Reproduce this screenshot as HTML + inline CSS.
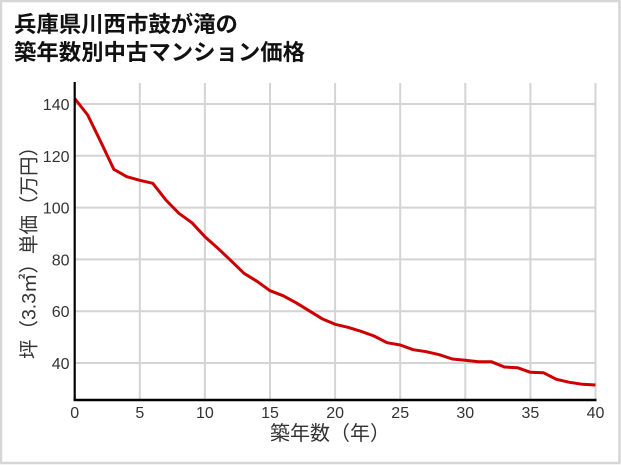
<!DOCTYPE html>
<html><head><meta charset="utf-8"><style>
html,body{margin:0;padding:0;background:#fff;}
svg{display:block;}
</style></head><body>
<svg width="621" height="465" viewBox="0 0 621 465" xmlns="http://www.w3.org/2000/svg">
<rect x="0" y="0" width="621" height="465" fill="#fff"/>
<rect x="1" y="1" width="618.5" height="462" fill="none" stroke="#d6d6d6" stroke-width="2.5"/>
<g font-family="'Liberation Sans','Noto Sans CJK JP',sans-serif" font-weight="bold" font-size="22.4" fill="#111">
<text x="14" y="32">兵庫県川西市鼓が滝の</text>
<text x="14" y="60">築年数別中古マンション価格</text>
</g>
<g stroke="#d4d4d4" stroke-width="2">
<line x1="139.8" y1="83" x2="139.8" y2="400"/>
<line x1="204.9" y1="83" x2="204.9" y2="400"/>
<line x1="270" y1="83" x2="270" y2="400"/>
<line x1="335.1" y1="83" x2="335.1" y2="400"/>
<line x1="400.2" y1="83" x2="400.2" y2="400"/>
<line x1="465.3" y1="83" x2="465.3" y2="400"/>
<line x1="530.4" y1="83" x2="530.4" y2="400"/>
<line x1="595.5" y1="83" x2="595.5" y2="400"/>
<line x1="75" y1="104" x2="596" y2="104"/>
<line x1="75" y1="155.8" x2="596" y2="155.8"/>
<line x1="75" y1="207.6" x2="596" y2="207.6"/>
<line x1="75" y1="259.4" x2="596" y2="259.4"/>
<line x1="75" y1="311.2" x2="596" y2="311.2"/>
<line x1="75" y1="363" x2="596" y2="363"/>
</g>
<polyline fill="none" stroke="#cc0000" stroke-width="3" stroke-linejoin="round" points="74.7,98.5 87.7,115 100.7,141.7 113.8,169.3 126.8,176.7 139.8,180.3 152.8,183.3 165.9,200 178.9,213.3 191.9,222.7 204.9,236.7 217.9,248.3 231,260.7 244,273.3 257,281.3 270,290.7 283,295.7 296,302.7 309,310.7 322,318.7 335.1,324.3 348,327.3 361,331.3 374,336 387,342.7 400.2,345 413.2,349.7 426.2,351.7 439.3,354.7 452.3,359 465.3,360.3 478.3,361.7 491.3,361.7 504.4,367 517.4,367.7 530.4,372.3 543.4,372.7 556.4,379.3 569.5,382.3 582.5,384.3 595.5,385"/>
<line x1="74.7" y1="82" x2="74.7" y2="401" stroke="#000" stroke-width="2.2"/>
<line x1="73.6" y1="400" x2="596.5" y2="400" stroke="#000" stroke-width="2.5"/>
<g font-family="'Liberation Sans',sans-serif" font-size="16" fill="#333" text-anchor="end">
<text x="69.5" y="110">140</text>
<text x="69.5" y="161.8">120</text>
<text x="69.5" y="213.6">100</text>
<text x="69.5" y="265.4">80</text>
<text x="69.5" y="317.2">60</text>
<text x="69.5" y="369">40</text>
</g>
<g font-family="'Liberation Sans',sans-serif" font-size="16" fill="#333" text-anchor="middle">
<text x="74.7" y="418">0</text>
<text x="139.8" y="418">5</text>
<text x="204.9" y="418">10</text>
<text x="270" y="418">15</text>
<text x="335.1" y="418">20</text>
<text x="400.2" y="418">25</text>
<text x="465.3" y="418">30</text>
<text x="530.4" y="418">35</text>
<text x="595.5" y="418">40</text>
</g>
<text x="270" y="440" font-family="'Liberation Sans','Noto Sans CJK JP',sans-serif" font-size="20" fill="#333">築年数（年）</text>
<text transform="translate(35.5,248) rotate(-90)" text-anchor="middle" font-family="'Liberation Sans','Noto Sans CJK JP',sans-serif" font-size="19.5" fill="#333">坪（3.3㎡）単価（万円）</text>
</svg>
</body></html>
